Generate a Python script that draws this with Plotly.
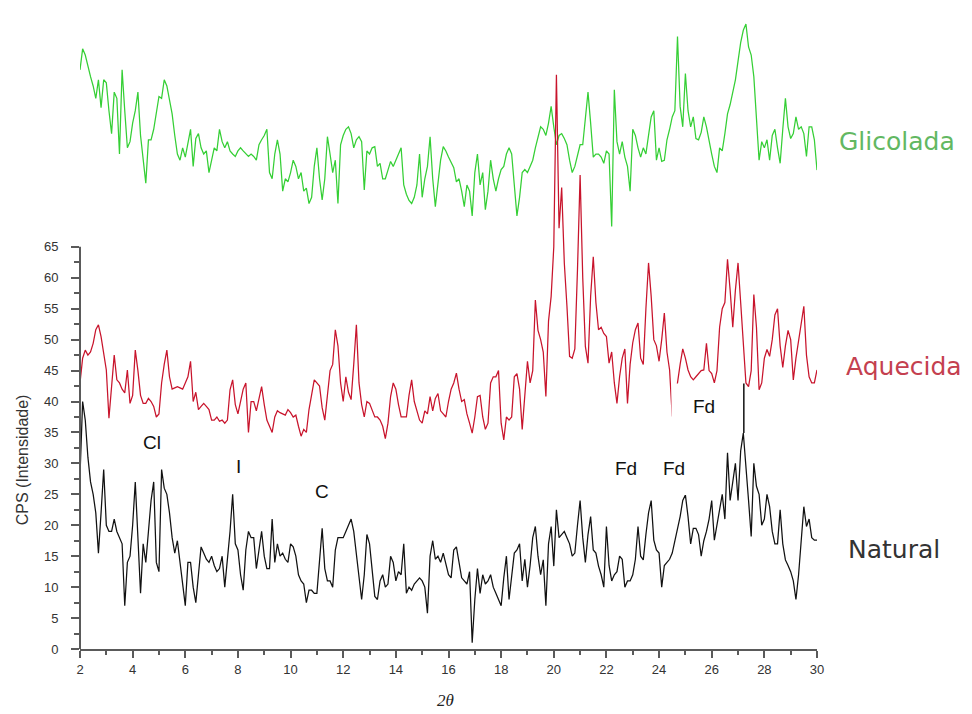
import plotly.graph_objects as go

# 2-theta scan: start and step of the diffractogram grid
two_theta_start = 2.0
two_theta_step = 0.1

natural = [
    28, 40, 37, 31, 27, 25, 22, 15.5, 22, 29,
    20, 19, 19, 21, 19, 18, 17, 7, 14, 15,
    20, 27, 18, 9, 17, 14, 19, 24, 27, 14,
    12.5, 29, 26, 25, 22, 18, 15.5, 17.5, 14, 10,
    7, 14, 14, 10, 7.5, 12, 16.5, 15.5, 14.5, 14,
    15, 13.5, 12.5, 13, 15, 10, 14, 19, 25, 17,
    16, 12, 9.5, 16, 19, 18, 18, 13, 16, 19,
    15, 13, 13, 21, 14, 17, 15, 15.5, 14.5, 14,
    17, 16.5, 15, 12, 11, 10.5, 7.5, 9.5, 9.5, 9,
    9, 14, 19.5, 13, 11, 11, 10, 16, 18, 18,
    18, 19, 20, 21, 19, 15, 12, 8, 12, 18.5,
    17, 13, 8.5, 8, 11, 12, 10, 10.5, 15, 14,
    11, 12.5, 12, 17, 9, 10, 9.5, 10.5, 11, 11.5,
    11, 10, 5.8, 15, 17.5, 14.5, 15, 14, 15.5, 13.5,
    12, 11.5, 16, 16.5, 14, 11.5, 11, 10.5, 12.5, 1,
    8, 13, 9, 12, 10.5, 11, 12, 10, 9, 8,
    7, 11.5, 15, 8, 12, 15.5, 16, 17, 11, 14.5,
    10, 13.5, 18, 19.8, 15, 12, 14.4, 7, 17, 19.8,
    13.4, 22.5, 18, 18.5, 19, 18, 17, 15, 15.5, 20,
    24, 18, 14, 18.5, 21.4, 16, 15.5, 13.4, 12, 10,
    19.8, 13.5, 11, 12, 12.5, 15, 14.5, 10, 11, 11,
    12, 14.5, 19.8, 15, 14.4, 18.5, 22, 24, 17.6, 16,
    15.5, 10, 13.5, 14, 14.5, 15.5, 17.5, 19.5, 21.4, 24,
    24.9, 21.4, 17, 19.5, 19.5, 18.5, 15, 17.5, 19, 21,
    24, 17.6, 20, 22, 25, 21, 31.7, 24, 27, 30,
    24, 32, 34.9, 30, 24, 18.2, 30, 26.3, 25, 20,
    21, 25, 23, 19, 17, 17, 22.5, 17, 14.4, 13.5,
    12.5, 11, 8, 12, 17, 23, 19.8, 21, 18, 17.6,
    17.6,
]

aquecida = [
    43, 47, 48.3, 47.5, 48, 49.4, 51.6, 52.4, 50.5, 48,
    45.1, 37.3, 43, 47.5, 43.5, 43, 42, 41.4, 45.1, 39.7,
    41, 48.3, 45, 41, 39.7, 39.7, 40.5, 40, 39.2, 37.5,
    38, 43, 46, 48.3, 44, 42, 42.2, 42.4, 42.2, 42,
    43, 44, 46.5, 40, 41.5, 38.7, 39.2, 39.7, 39.2, 38.7,
    37, 37, 37.5, 36.8, 37, 36.5, 37, 41.9, 43.5, 39.5,
    38, 40, 42, 43, 35, 40, 40, 38.5, 40.5, 42.4,
    39.5, 37, 36, 35, 37.5, 38.5, 38.2, 38, 37.8, 38.7,
    38.2, 37.5, 37.8, 36, 34.4, 35.5, 35, 38.7, 41, 43.5,
    43, 42.5, 39, 37, 41, 45, 46, 51.6, 49, 43,
    40, 44, 41.5, 40.3, 46, 52.4, 43, 39.5, 37.5, 40,
    39.7, 38.5, 37.5, 37.5, 37, 36, 34, 36.5, 40.8, 43,
    42, 39.5, 37.5, 37.5, 37.5, 41, 43.5, 40, 38.5, 37,
    36.5, 38.5, 38, 40.8, 38.5, 40.5, 41.3, 38.5, 38, 37.5,
    40, 42, 43, 44.6, 42, 40, 40.3, 38, 36.5, 34.9,
    37.5, 40.8, 41, 37.5, 35.5, 36.5, 43, 44, 44, 45,
    36.5, 33.8, 37.5, 37, 37.5, 44, 44.5, 42, 35.5, 41,
    46.5, 43, 45, 56.4, 51.5, 50, 48, 40.8, 53, 57,
    65, 92.8, 68, 74.6, 62.4, 55.4, 47.3, 47, 48.5, 61.3,
    76.6, 60, 48.9, 46.2, 57, 63.4, 56, 51.6, 52, 51,
    50.5, 46.2, 48, 43, 39.7, 44, 47, 48.5, 39.7, 46,
    49.5, 51.6, 52.7, 47, 46, 55, 62.4, 57, 50, 49,
    46.5, 50, 54.3, 48, 45.1, 37.6, 40, 43, 46, 48.5,
    47, 45.1, 44, 43.5, 44, 44.5, 45, 45.1, 49.4, 45,
    44.5, 43, 45, 52, 55, 56, 63, 58, 52, 58,
    62.4, 56, 49.5, 43, 42.4, 45, 57.3, 52, 41.9, 43,
    47, 48.4, 47.3, 50, 54, 55, 49, 45.5, 49, 51.5,
    50, 43.5, 47, 50, 53, 55.4, 47.5, 44, 43, 43,
    45.1,
]

glicolada = [
    93.6, 97, 96, 94, 92.5, 91, 89, 92, 87.5, 92,
    91.5, 87, 83.3, 90, 89, 80, 93.6, 87, 81, 82,
    85, 87, 90, 83, 79, 75.3, 82.3, 82.3, 84, 87,
    89.3, 89, 92, 91, 89, 86.5, 83, 80, 79, 81,
    79.5, 82, 84, 78, 82.5, 83.3, 81, 80, 80.5, 77,
    79, 81, 80.5, 84, 82, 81, 82, 80.5, 80, 79.6,
    80.5, 81, 80.5, 80, 79.6, 80, 79.6, 79, 81.5, 82.3,
    83, 84, 77, 76, 80, 82.3, 80, 74, 76, 75.5,
    77, 79, 78, 76, 77, 74, 74.5, 72, 73, 78,
    81, 76, 72.6, 76, 82.8, 80, 77, 79, 72, 81.5,
    83, 84, 84.4, 83.3, 81, 82.3, 82.8, 82, 74.2, 80.5,
    80, 81, 81.2, 78, 78.5, 76, 76, 77.4, 78.8, 78,
    79, 80, 81, 75, 73.5, 72.5, 72, 73, 75, 80,
    73, 76, 78, 82.8, 76, 71.5, 75.8, 79, 81.2, 80.5,
    79.5, 78.5, 77.8, 75.5, 76, 74, 71.5, 75, 74, 70,
    77, 80, 75, 77, 71, 74, 79, 76, 74, 76,
    77.5, 78, 80, 81, 80, 75, 70, 73, 77, 77.5,
    77, 78, 79, 81, 82.5, 84.4, 84, 83, 85, 87.7,
    84.4, 81.5, 83, 83.3, 82.5, 81.5, 79, 77, 78, 80,
    81.5, 81.5, 86, 90, 85, 79.5, 80, 80, 79.5, 78.5,
    80.5, 80, 68.3, 90.4, 82, 80, 82, 79.5, 78, 74,
    84, 83, 81, 79.5, 81, 80, 83, 86, 87, 79,
    81, 78.8, 79, 82.3, 84, 86, 87, 99, 87.7, 84.4,
    93, 87, 84.4, 86, 82.5, 82.3, 83.5, 86, 84.4, 82,
    80, 78, 77, 81, 80.5, 83.3, 86.5, 88, 90, 92,
    95, 98, 100, 101, 97.3, 96, 92.5, 85.5, 79, 82,
    81, 82.3, 79, 83, 84, 81, 78.5, 84, 89, 84.4,
    82.5, 83.3, 86, 84, 84.4, 83.3, 79.6, 84.4, 84.4, 82.3,
    77.4,
]

two_theta = [round(two_theta_start + i * two_theta_step, 2) for i in range(len(natural))]

x_ticks = list(range(2, 31, 2))
x_minor = list(range(3, 30, 2))
y_ticks = list(range(0, 66, 5))
y_minor = [v + 2.5 for v in range(0, 65, 5)]

series_names = ["Glicolada", "Aquecida", "Natural"]
series_colors = ["#35cf35", "#c8142c", "#111111"]
label_colors = ["#62b862", "#c4404f", "#333333"]

peak_labels = ["Cl", "I", "C", "Fd", "Fd", "Fd"]
peak_x = [4.73, 8.03, 11.21, 22.73, 24.58, 25.72]
peak_y = [33.4, 29.5, 25.5, 29.2, 29.2, 39.2]

fig = go.Figure()
for name, ys, col in zip(series_names, [glicolada, aquecida, natural], series_colors):
    fig.add_trace(go.Scatter(x=two_theta, y=ys, mode="lines", name=name,
                             line=dict(color=col, width=1.25), showlegend=False))

axis_col = "#5a5a5a"
tick_font = dict(family="Liberation Sans, Arial, sans-serif", size=13, color="#333333")

# the page body adds an 8px offset, so the figure is 8px smaller than the window
fig.update_layout(
    width=964, height=706,
    margin=dict(l=72, r=155, t=0, b=65),
    paper_bgcolor="white", plot_bgcolor="white",
    xaxis=dict(range=[2, 30], showline=True, linecolor=axis_col, linewidth=2,
               ticks="outside", ticklen=7, tickwidth=1.5, tickcolor=axis_col,
               tickmode="array", tickvals=x_ticks, ticktext=[str(v) for v in x_ticks],
               minor=dict(tickmode="array", tickvals=x_minor, ticks="outside",
                          ticklen=4, tickcolor=axis_col, tickwidth=1.5),
               showgrid=False, zeroline=False, tickfont=tick_font, automargin=False),
    yaxis=dict(range=[0, 103.6], showline=False,
               ticks="outside", ticklen=8, tickwidth=1.5, tickcolor=axis_col,
               tickmode="array", tickvals=y_ticks, ticktext=[str(v) for v in y_ticks],
               minor=dict(tickmode="array", tickvals=y_minor, ticks="outside",
                          ticklen=5, tickcolor=axis_col, tickwidth=1.5),
               ticklabelstandoff=10,
               showgrid=False, zeroline=False, tickfont=tick_font, automargin=False),
)

# y-axis line only over the scaled range
fig.add_shape(type="line", xref="paper", yref="y", x0=0, x1=0, y0=0, y1=65,
              line=dict(color=axis_col, width=2), layer="above")

# white label boxes pasted over the traces
fig.add_shape(type="rect", xref="x", yref="y", x0=24.47, x1=27.22, y0=35.0, y1=42.9,
              fillcolor="white", line=dict(width=0), layer="above")
fig.add_shape(type="rect", xref="x", yref="y", x0=21.2, x1=26.0, y0=24.9, y1=33.9,
              fillcolor="white", line=dict(width=0), layer="above")
fig.add_shape(type="line", xref="x", yref="y", x0=27.22, x1=27.22, y0=34.9, y1=42.9,
              line=dict(color="#111111", width=1.5), layer="above")

for t, px, py in zip(peak_labels, peak_x, peak_y):
    fig.add_annotation(x=px, y=py, xref="x", yref="y", text=t, showarrow=False,
                       xanchor="center", yanchor="middle",
                       font=dict(family="Liberation Sans, Arial, sans-serif", size=19, color="#111111"))

label_y = [82.1, 45.7, 16.1]
label_shift = [20, 27, 29]
for name, col, ly, sh in zip(series_names, label_colors, label_y, label_shift):
    fig.add_annotation(x=1, xref="paper", y=ly, yref="y", text=name, showarrow=False,
                       xanchor="left", yanchor="middle", xshift=sh,
                       font=dict(family="DejaVu Sans, sans-serif", size=25, color=col))

fig.add_annotation(x=0, xref="paper", xshift=-58, y=30.5, yref="y",
                   xanchor="center", yanchor="middle",
                   text="CPS (Intensidade)", textangle=-90, showarrow=False,
                   font=dict(family="Liberation Sans, Arial, sans-serif", size=16, color="#333333"))

fig.add_annotation(x=15.87, xref="x", y=0, yref="paper", yshift=-51,
                   xanchor="center", yanchor="middle",
                   text="<i>2θ</i>", showarrow=False,
                   font=dict(family="Liberation Serif, serif", size=17, color="#222222"))

fig.write_html("out.html")
